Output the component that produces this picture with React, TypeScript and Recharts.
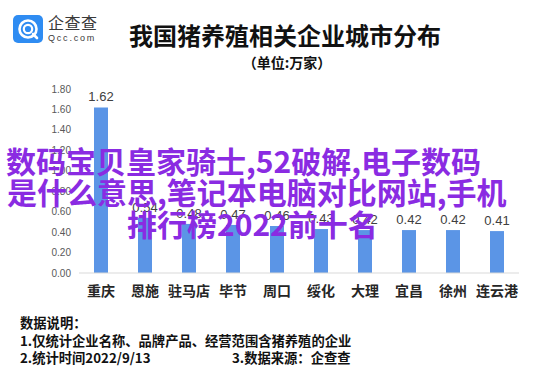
import React from 'react';
import { BarChart, Bar, XAxis, YAxis, LabelList } from 'recharts';

const cities: string[] = ['重庆', '恩施', '驻马店', '毕节', '周口', '绥化', '大理', '宜昌', '徐州', '连云港'];
const counts: number[] = [1.62, 0.54, 0.48, 0.47, 0.46, 0.43, 0.42, 0.42, 0.42, 0.41];
const yTicks: number[] = [0, 0.2, 0.4, 0.6, 0.8, 1.0, 1.2, 1.4, 1.6, 1.8];

const title = '我国猪养殖相关企业城市分布';
const subtitle = '（单位:万家）';
const notes: string[] = ['数据说明：', '1.仅统计企业名称、品牌产品、经营范围含猪养殖的企业', '2.统计时间2022/9/13', '3.数据来源：企查查'];
const overlayLines: string[] = ['数码宝贝皇家骑士,52破解,电子数码', '是什么意思,笔记本电脑对比网站,手机', '排行榜2022前十名'];

const data = cities.map((c, i) => ({ city: c, value: counts[i] }));

const CJK = '"Noto Sans CJK SC", "Noto Sans", sans-serif';
const NUM = '"Liberation Sans", "Noto Sans", sans-serif';

export default function App() {
  return (
    <div style={{ position: 'fixed', left: 0, top: 0, width: 554, height: 376, background: '#fff', overflow: 'hidden', fontFamily: CJK }}>
      <div style={{ position: 'absolute', left: 0, top: 0 }}>
        <BarChart width={554} height={376} data={data} margin={{ top: 89, right: 35, bottom: 73, left: 0 }}>
          <XAxis
            dataKey="city"
            height={30}
            tickLine={false}
            tickSize={0}
            tickMargin={13}
            axisLine={{ stroke: '#d9d9d9' }}
            tick={{ fill: '#262626', fontSize: 14, fontFamily: CJK, fontWeight: 700 }}
            interval={0}
          />
          <YAxis
            width={79}
            domain={[0, 1.8]}
            ticks={yTicks}
            tickFormatter={(v: number) => v.toFixed(2)}
            axisLine={false}
            tickLine={false}
            tick={{ fill: '#595959', fontSize: 10, fontFamily: NUM }}
          />
          <Bar dataKey="value" fill="#5B95E6" barSize={14} isAnimationActive={false}>
            <LabelList dataKey="value" position="top" offset={6} formatter={(v: number) => v.toFixed(2)} style={{ fill: '#404040', fontSize: 13, fontFamily: NUM }} />
          </Bar>
        </BarChart>
      </div>

      {/* logo */}
      <div style={{ position: 'absolute', left: 13, top: 15, width: 30, height: 28, borderRadius: 5, background: '#2F8CF2' }}>
        <svg width={30} height={28} viewBox="0 0 30 28">
          <circle cx={15} cy={14} r={8.5} fill="none" stroke="#fff" strokeWidth={2.6} />
          <circle cx={15} cy={14} r={4.2} fill="none" stroke="#fff" strokeWidth={2.2} />
          <line x1={20} y1={19} x2={24} y2={23} stroke="#fff" strokeWidth={2.6} strokeLinecap="round" />
        </svg>
      </div>
      <div style={{ position: 'absolute', left: 48, top: 13, fontSize: 16, lineHeight: '18px', color: '#3a3a3a', letterSpacing: 0.5 }}>企查查</div>
      <div style={{ position: 'absolute', left: 48, top: 33, fontSize: 9, lineHeight: '10px', color: '#3a3a3a', letterSpacing: 1.8, fontFamily: NUM }}>Qcc.com</div>

      {/* title */}
      <div style={{ position: 'absolute', left: 0, width: 570, top: 21, textAlign: 'center', fontSize: 24, lineHeight: '28px', fontWeight: 700, color: '#111' }}>{title}</div>
      <div style={{ position: 'absolute', left: 0, width: 574, top: 53, textAlign: 'center', fontSize: 14, lineHeight: '18px', fontWeight: 700, color: '#111' }}>{subtitle}</div>

      {/* notes */}
      <div style={{ position: 'absolute', left: 20, top: 314, fontSize: 13.3, lineHeight: '18px', fontWeight: 700, color: '#111' }}>{notes[0]}</div>
      <div style={{ position: 'absolute', left: 20, top: 332, fontSize: 13.3, lineHeight: '18px', fontWeight: 700, color: '#111' }}>{notes[1]}</div>
      <div style={{ position: 'absolute', left: 20, top: 349, fontSize: 13.3, lineHeight: '18px', fontWeight: 700, color: '#111' }}>{notes[2]}</div>
      <div style={{ position: 'absolute', left: 232, top: 349, fontSize: 13.3, lineHeight: '18px', fontWeight: 700, color: '#111' }}>{notes[3]}</div>

      {/* overlay text */}
      <div style={{ position: 'absolute', left: 6, top: 145, fontSize: 30, lineHeight: '30px', fontWeight: 700, color: '#8A2BE2', whiteSpace: 'nowrap' }}>{overlayLines[0]}</div>
      <div style={{ position: 'absolute', left: 7, top: 176, fontSize: 30, lineHeight: '30px', fontWeight: 700, color: '#8A2BE2', whiteSpace: 'nowrap' }}>{overlayLines[1]}</div>
      <div style={{ position: 'absolute', left: 127, top: 208, fontSize: 30, lineHeight: '30px', fontWeight: 700, color: '#8A2BE2', whiteSpace: 'nowrap' }}>{overlayLines[2]}</div>
    </div>
  );
}
